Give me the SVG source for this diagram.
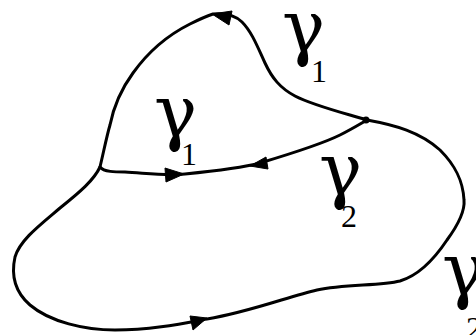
<svg xmlns="http://www.w3.org/2000/svg" width="476" height="335" viewBox="0 0 476 335">
<style>
.c{fill:none;stroke:#000;stroke-width:3;stroke-linecap:round;stroke-linejoin:round}
.a{fill:#000;stroke:#000;stroke-width:1}
.g{font-family:"DejaVu Serif",serif;font-size:72px;fill:#000}
.s{font-family:"Liberation Serif","DejaVu Serif",serif;font-size:32px;fill:#000}
</style>
<rect width="476" height="335" fill="#fff"/>
<g id="connectors">
<path id="outer" class="c" d="M100,167 C104,150 107,135 110,125 C114,105 122,88 133,73 C148,52 168,35 190,24 C200,19 207,16 213,14 C225,13 236,16 242,22 C252,32 258,48 265,63 C272,78 280,88 295,96 C312,105 340,112 367,120 C395,125 420,132 440,150 C455,165 463,180 464,200 C465,210 458,225 447,240 C435,258 420,275 400,281 C380,286 345,284 317,290 C290,296 250,312 207,319 C180,324 150,330 115,330 C85,330 50,322 30,305 C15,292 11,275 15,257 C20,240 40,225 60,208 C80,192 94,180 100,167 Z"/>
<path id="inner" class="c" d="M100,167 C104,172 115,172 125,172 C145,173 165,176 185,174 C215,171 245,167 260,163 C290,154 320,145 340,135 C352,129 360,124 367,120"/>
<polygon class="a" points="212,14 232,11 229,25"/>
<polygon class="a" points="184,174 165,168 166,182"/>
<polygon class="a" points="250,166 266,157 268,169"/>
<polygon class="a" points="207,318 190,316 193,330"/>
<circle cx="366" cy="120" r="3.5" fill="#000"/>
</g>
<g id="label-top-gamma1"><text class="g" x="282" y="52">γ</text><text class="s" x="311" y="82">1</text></g>
<g id="label-inner-gamma1"><text class="g" x="154" y="137">γ</text><text class="s" x="181" y="165">1</text></g>
<g id="label-mid-gamma2"><text class="g" x="319" y="195">γ</text><text class="s" x="341" y="227">2</text></g>
<g id="label-bottom-gamma2"><text class="g" x="442" y="295">γ</text><text class="s" x="466" y="339">2</text></g>
</svg>
